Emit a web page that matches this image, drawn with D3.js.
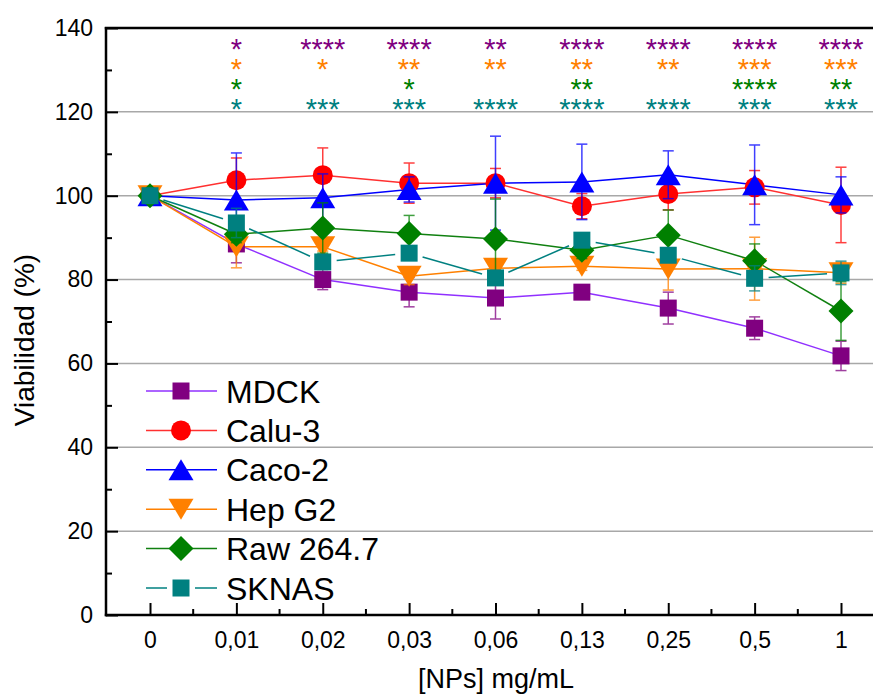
<!DOCTYPE html>
<html><head><meta charset="utf-8">
<script src="https://cdn.jsdelivr.net/npm/d3@7"></script>
<style>body{margin:0;background:#fff} svg{display:block} text{font-family:"Liberation Sans",Arial,sans-serif;fill:#000}</style>
</head><body><svg id="chart" width="873" height="696"></svg>
<script>
// ---------- data ----------
const categories = ["0","0,01","0,02","0,03","0,06","0,13","0,25","0,5","1"];
const yTicks = [0,20,40,60,80,100,120,140];
const seriesNames = ["MDCK","Calu-3","Caco-2","Hep G2","Raw 264.7","SKNAS"];

const mdck     = [100, 88.5, 80.0, 77.0, 75.6, 77.0, 73.2, 68.4, 61.8];
const mdckErr  = [0,   4.5,  2.4,  3.5,  5.0,  1.0,  3.8,  2.7,  3.5];
const calu     = [100, 103.7, 104.9, 103.0, 103.0, 97.5, 100.4, 102.0, 97.8];
const caluErr  = [0,   5.3,  6.5,  4.8,  3.5,  3.0,  3.8,  4.0,  9.0];
const caco     = [100, 99.0, 99.5, 101.5, 103.0, 103.3, 105.0, 102.6, 100.2];
const cacoErr  = [0,   11.2, 5.7,  3.0,  11.2, 9.0,  5.7,  9.5,  4.3];
const hep      = [100, 87.8, 87.8, 80.8, 82.7, 83.2, 82.5, 82.6, 81.6];
const hepErr   = [0,   5.0,  1.0,  2.0,  1.5,  1.0,  5.0,  7.5,  2.5];
const raw      = [100, 90.8, 92.3, 91.0, 89.7, 87.0, 90.6, 84.5, 72.5];
const rawErr   = [0,   2.0,  6.0,  4.3,  9.5,  2.0,  6.0,  4.0,  7.0];
const sknas    = [100, 93.5, 84.2, 86.3, 80.4, 89.4, 85.8, 80.3, 81.6];
const sknasErr = [0,   3.5,  1.0,  1.0,  1.0,  1.0,  1.0,  3.0,  2.8];

const starsMDCK  = ["", "*", "****", "****", "**", "****", "****", "****", "****"];
const starsHep   = ["", "*", "*", "**", "**", "**", "**", "***", "***"];
const starsRaw   = ["", "*", "", "*", "", "**", "", "****", "**"];
const starsSKNAS = ["", "*", "***", "***", "****", "****", "****", "***", "***"];

// ---------- styles ----------
const seriesValues = [mdck, calu, caco, hep, raw, sknas];
const seriesErrors = [mdckErr, caluErr, cacoErr, hepErr, rawErr, sknasErr];
const markerColors = ["#800080","#FF0000","#0000FF","#FF8000","#008000","#008080"];
const lineColors   = ["#9030FF","#FF3030","#0000FF","#FF8000","#108010","#008080"];
const symbols      = ["square","circle","triUp","triDown","diamond","square"];
const gaps         = [0,0,0,0,0,14];
const starSets  = [starsMDCK, starsHep, starsRaw, starsSKNAS];
const starColors = ["#800080","#FF8000","#008000","#008080"];
const starRows  = [42, 62, 82, 102];

const svg = d3.select("#chart");
const plotL = 106, plotR = 873, plotT = 28, plotB = 615;
const x = d3.scalePoint().domain(categories).range([150, 841]);
const y = d3.scaleLinear().domain([0,140]).range([plotB, plotT]);

function symbolPath(type, cx, cy) {
  if (type === "square") { const h = 8.5; return `M${cx-h},${cy-h}H${cx+h}V${cy+h}H${cx-h}Z`; }
  if (type === "circle") { const r = 10; return `M${cx-r},${cy}A${r},${r} 0 1,0 ${cx+r},${cy}A${r},${r} 0 1,0 ${cx-r},${cy}Z`; }
  if (type === "triUp") { const w = 12.5, h = 10.5; return `M${cx},${cy-h}L${cx+w},${cy+h}L${cx-w},${cy+h}Z`; }
  if (type === "triDown") { const w = 12.5, h = 10.5; return `M${cx},${cy+h}L${cx+w},${cy-h}L${cx-w},${cy-h}Z`; }
  if (type === "diamond") { const d = 12.5; return `M${cx},${cy-d}L${cx+d},${cy}L${cx},${cy+d}L${cx-d},${cy}Z`; }
}

// grid lines
svg.append("g").selectAll("line").data(yTicks.filter(v => v > 0 && v < 140)).join("line")
  .attr("x1", plotL).attr("x2", plotR).attr("y1", d => y(d)).attr("y2", d => y(d))
  .attr("stroke", "#a8a8a8").attr("stroke-width", 1.5);

// lines
const lineGen = d3.line().x(d => d[0]).y(d => d[1]);
seriesValues.forEach((vals, s) => {
  const g = gaps[s];
  const pts = vals.map((v, i) => [x(categories[i]), y(v)]);
  for (let i = 0; i < pts.length - 1; i++) {
    const [x0, y0] = pts[i], [x1, y1] = pts[i+1];
    const len = Math.hypot(x1 - x0, y1 - y0);
    const ux = (x1 - x0) / len, uy = (y1 - y0) / len;
    const seg = [[x0 + ux*g, y0 + uy*g], [x1 - ux*g, y1 - uy*g]];
    svg.append("path").attr("d", lineGen(seg)).attr("fill", "none")
      .attr("stroke", lineColors[s]).attr("stroke-width", 1.5);
  }
});

// markers + error bars
seriesValues.forEach((vals, s) => {
  const g = svg.append("g");
  vals.forEach((v, i) => {
    const cx = x(categories[i]), cy = y(v);
    g.append("path").attr("d", symbolPath(symbols[s], cx, cy)).attr("fill", markerColors[s]);
  });
  const eg = svg.append("g").attr("stroke", markerColors[s]).attr("stroke-width", 1.5).attr("opacity", 0.75);
  vals.forEach((v, i) => {
    const e = seriesErrors[s][i];
    if (!e) return;
    const cx = x(categories[i]);
    eg.append("line").attr("x1", cx).attr("x2", cx).attr("y1", y(v - e)).attr("y2", y(v + e));
    [v - e, v + e].forEach(t => eg.append("line").attr("x1", cx - 5.5).attr("x2", cx + 5.5).attr("y1", y(t)).attr("y2", y(t)));
  });
});

// significance stars: one text per concentration, one tspan per row
categories.forEach((c, i) => {
  if (i === 0) return;
  const t = svg.append("text").attr("text-anchor", "middle").attr("font-size", 29);
  starSets.forEach((set, r) => {
    if (!set[i]) return;
    t.append("tspan").attr("x", x(c)).attr("y", starRows[r] + 16.5)
      .style("fill", starColors[r]).text(set[i]);
  });
});

// axes
const yAxis = svg.append("g").attr("transform", `translate(${plotL},0)`)
  .call(d3.axisLeft(y).tickValues(yTicks).tickSize(-12).tickSizeOuter(0).tickPadding(13));
yAxis.select(".domain").remove();
yAxis.selectAll("line").attr("stroke", "#000").attr("stroke-width", 2);
yAxis.selectAll("text").attr("font-size", 23).attr("font-family", "Liberation Sans, Arial, sans-serif");
const yMinor = svg.append("g").attr("transform", `translate(${plotL},0)`)
  .call(d3.axisLeft(y).tickValues(d3.range(10, 140, 20)).tickSize(-6).tickSizeOuter(0).tickFormat(""));
yMinor.select(".domain").remove();
yMinor.selectAll("line").attr("stroke", "#000").attr("stroke-width", 2);

const xAxis = svg.append("g").attr("transform", `translate(0,${plotB})`)
  .call(d3.axisBottom(x).tickSize(-12).tickSizeOuter(0).tickPadding(17));
xAxis.select(".domain").remove();
xAxis.selectAll("line").attr("stroke", "#000").attr("stroke-width", 2);
xAxis.selectAll("text").attr("font-size", 23).attr("font-family", "Liberation Sans, Arial, sans-serif");
const mids = categories.slice(1).map((c, i) => (x(c) + x(categories[i])) / 2);
svg.append("g").selectAll("line").data(mids).join("line")
  .attr("x1", d => d).attr("x2", d => d).attr("y1", plotB).attr("y2", plotB - 6)
  .attr("stroke", "#000").attr("stroke-width", 2);

// frame
svg.append("line").attr("x1", plotL).attr("x2", plotL).attr("y1", plotT - 1).attr("y2", plotB + 1.2).attr("stroke", "#000").attr("stroke-width", 2.5);
svg.append("line").attr("x1", plotL - 1.2).attr("x2", plotR).attr("y1", plotB).attr("y2", plotB).attr("stroke", "#000").attr("stroke-width", 2.5);
svg.append("line").attr("x1", plotL - 1.2).attr("x2", plotR).attr("y1", plotT).attr("y2", plotT).attr("stroke", "#000").attr("stroke-width", 2.5);

// axis titles
svg.append("text").attr("transform", "translate(34,340) rotate(-90)").attr("text-anchor", "middle")
  .attr("font-size", 28).text("Viabilidad (%)");
svg.append("text").attr("x", 496).attr("y", 688).attr("text-anchor", "middle")
  .attr("font-size", 27).text("[NPs] mg/mL");

// legend
seriesNames.forEach((name, s) => {
  const ly = 391 + s * 39.4;
  const g = svg.append("g");
  const gp = gaps[s];
  if (gp) {
    g.append("line").attr("x1", 146).attr("x2", 181 - gp).attr("y1", ly).attr("y2", ly).attr("stroke", lineColors[s]).attr("stroke-width", 1.5);
    g.append("line").attr("x1", 181 + gp).attr("x2", 217).attr("y1", ly).attr("y2", ly).attr("stroke", lineColors[s]).attr("stroke-width", 1.5);
  } else {
    g.append("line").attr("x1", 146).attr("x2", 217).attr("y1", ly).attr("y2", ly).attr("stroke", lineColors[s]).attr("stroke-width", 1.5);
  }
  g.append("path").attr("d", symbolPath(symbols[s], 181, ly)).attr("fill", markerColors[s]);
  g.append("text").attr("x", 226).attr("y", ly).attr("dy", "0.36em").attr("font-size", 32).text(name);
});
</script></body></html>
